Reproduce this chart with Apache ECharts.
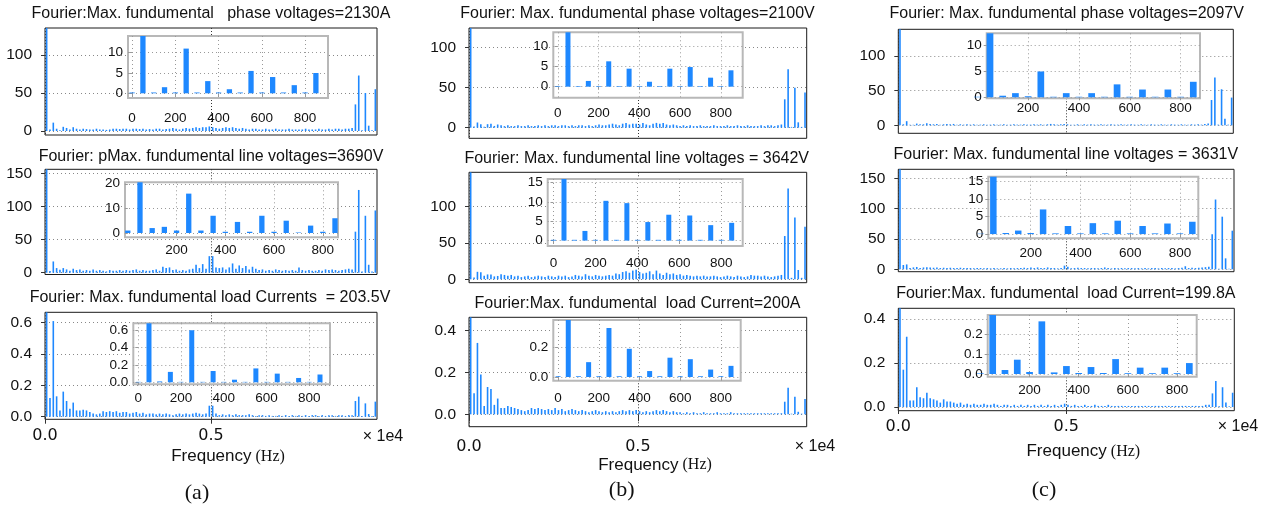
<!DOCTYPE html>
<html><head><meta charset="utf-8">
<script src="https://cdn.jsdelivr.net/npm/echarts@6/dist/echarts.min.js"></script>
<style>html,body{margin:0;padding:0;background:#fff}#c{width:1276px;height:510px}</style>
</head><body><div id="c"></div>
<script>
// ---------- DATA ----------
// odd harmonics of 50 Hz shown in the main spectra
const mainFreq = [50,150,250,350,450,550,650,750,850,950,1050,1150,1250,1350,1450,1550,1650,1750,1850,1950,2050,2150,2250,2350,2450,2550,2650,2750,2850,2950,3050,3150,3250,3350,3450,3550,3650,3750,3850,3950,4050,4150,4250,4350,4450,4550,4650,4750,4850,4950,5050,5150,5250,5350,5450,5550,5650,5750,5850,5950,6050,6150,6250,6350,6450,6550,6650,6750,6850,6950,7050,7150,7250,7350,7450,7550,7650,7750,7850,7950,8050,8150,8250,8350,8450,8550,8650,8750,8850,8950,9050,9150,9250,9350,9450,9550,9650,9750,9850,9950];
// harmonics in the zoomed insets
const insetFreq = [0,50,100,150,200,250,300,350,400,450,500,550,600,650,700,750,800,850];

const mainA1 = [2130,2,11,3,1,5.5,4,2,5,
 3,2,3,2.5,2,2,3,2,2,1.5,2,3,
 3,2.5,3,3,2,3,3,2.5,3,2,2.5,2,3,3,2,2.5,3,4,3,2,
 3,4,3,4,5,4,5,5,6,5,4,3,4,5,4,
 5,4,3,4,3,2,3,3,2,2,3,2,2,3,2,
 2,2,3,2,2,2,2,3,2,2,2,3,2,2,3,2,3,3,2,3,3,4,
 35,73,1,50,7,1,55];
const mainA2 = [3690,2.5,17,7,4.5,7,5,3,6,
 4,5,3,4,3,5,3,4,3,2,4,3,
 3,4,3,4,3,4,5,3,4,3,3,4,5,3,9,7,8,4,5,3,
 4,3,5,6,12,7,13,6,25,25,8,7,8,5,8,
 14,6,11,7,10,5,9,6,4,5,3,4,3,5,4,
 3,4,3,4,3,8,4,3,4,3,3,4,3,5,4,5,4,3,4,5,6,5,
 62,125,2,86,12,2,94];
const mainA3 = [203.5,0.12,0.61,0.13,0.04,0.16,0.1,0.05,0.09,
 0.04,0.04,0.045,0.04,0.03,0.02,0.015,0.02,0.035,0.03,0.035,0.03,
 0.035,0.025,0.03,0.03,0.02,0.025,0.03,0.02,0.025,0.015,0.02,0.02,0.015,0.02,0.015,0.02,0.015,0.01,0.015,0.02,
 0.015,0.02,0.015,0.02,0.025,0.02,0.015,0.02,0.07,0.07,0.02,0.01,0.015,0.01,0.015,
 0.01,0.015,0.01,0.01,0.01,0.015,0.01,0.005,0.01,0.01,0.005,0.01,0.005,0.005,0.01,
 0.005,0.01,0.005,0.01,0.005,0.01,0.005,0.01,0.005,0.01,0.01,0.005,0.01,0.005,0.01,0.01,0.005,0.01,0.01,0.005,0.01,0.01,
 0.1,0.128,0.005,0.085,0.017,0.005,0.096];
const mainB1 = [2100,1.4,6.5,4.4,1.2,4.4,4.8,2.2,4,
 3,2,3,2,2,3,2,2,3,2,2,3,
 2,3,2,3,3,2,3,3,2,3,2,3,3,2,3,2,3,4,3,3,
 4,5,4,3,5,6,4,5,5,4,6,4,3,5,6,
 5,6,4,3,4,3,2,3,2,3,2,2,3,2,2,
 2,3,2,2,2,3,2,2,3,2,2,3,2,2,2,3,2,3,3,2,3,4,
 35.5,73,1,50,6.7,1,44];
const mainB2 = [3642,2.5,10.3,9.7,4.8,6.7,6.5,4,4.6,
 7,6,5,6,4,5,3,4,5,3,4,5,
 4,3,5,4,3,5,4,5,3,4,6,5,4,7,5,4,6,5,4,5,
 6,5,8,7,10,11,9,12,13,10,8,9,11,7,12,
 8,6,9,7,8,6,7,5,6,5,4,5,4,5,4,
 4,5,4,3,4,5,4,3,5,4,3,4,6,5,5,4,5,4,3,4,5,6,
 59.6,125,2,85,12.8,2,72.5];
const mainB3 = [200,0.1,0.34,0.19,0.04,0.13,0.12,0.045,0.075,
 0.03,0.03,0.04,0.035,0.03,0.025,0.02,0.015,0.02,0.03,0.025,0.03,
 0.025,0.02,0.025,0.02,0.03,0.02,0.025,0.015,0.02,0.025,0.02,0.015,0.02,0.015,0.01,0.015,0.02,0.015,0.01,0.015,
 0.01,0.015,0.01,0.015,0.02,0.015,0.02,0.015,0.02,0.015,0.01,0.015,0.01,0.015,0.02,
 0.015,0.02,0.015,0.01,0.015,0.01,0.01,0.005,0.01,0.005,0.01,0.005,0.005,0.01,0.005,
 0.005,0.005,0.01,0.005,0.005,0.005,0.01,0.005,0.005,0.005,
 0.005,0.005,0.005,0.005,0.005,0.005,0.005,0.005,0.005,0.005,0.005,0.005,
 0.06,0.127,0.003,0.084,0.012,0.003,0.073];
const mainC1 = [2097,1.5,6,0.8,0.8,2.5,1.5,1.5,3,
 2,1.5,2,1,1.5,2,1.5,2,1,1.5,1,1.5,
 1,1.5,1,1,1.5,1,1,1.5,1,1,1.5,1,1,1.5,1,1,1.5,1,1,1.5,
 1,1.5,1,1.5,2,1.5,1,1.5,2,1.5,1,1,1.5,1,1.5,
 1,1.5,1,1,1.5,1,1,1.5,1,1,1.5,1,1,1.5,1,
 1,1.5,1,1,1.5,1,1,1.5,1,1,1.5,1,1,1.5,1,1,1.5,1,1.5,1,2,2.5,
 36.5,69,1,52,9.5,1,40];
const mainC2 = [3631,7,8,2.3,3.1,3.8,2.3,3,3.5,
 3,2.5,3,2,2.5,2,2.5,2,2,2.5,2,2,
 2,1.5,2,2,1.5,2,1.5,2,1.5,1.5,2,1.5,2,1.5,2,2,2.5,2,3,2,
 3,2,2,3,2,2,1.5,2,6,4,1.5,2,2.5,2,2,
 1.5,2,2,1.5,2,3,2,1.5,2,1.5,2,1.5,2,2,1.5,
 2,1.5,2,1.5,2,2,1.5,2,1.5,2,2,1.5,2,2.5,5,2,2.5,2,2.5,3,3.5,4,
 57.7,115,1,86.7,18,1,63.6];
const mainC3 = [199.8,0.17,0.32,0.03,0.03,0.09,0.045,0.04,0.065,
 0.04,0.035,0.03,0.02,0.035,0.025,0.025,0.02,0.015,0.02,0.01,0.015,
 0.01,0.015,0.01,0.01,0.015,0.01,0.01,0.015,0.01,0.005,0.01,0.01,0.005,0.01,0.005,0.01,0.005,0.01,0.005,0.01,
 0.005,0.01,0.005,0.01,0.005,0.01,0.005,0.01,0.015,0.01,0.005,0.01,0.005,0.005,0.01,
 0.005,0.005,0.01,0.005,0.005,0.005,0.01,0.005,0.005,0.005,0.005,0.005,0.005,0.005,0.005,
 0.005,0.005,0.005,0.005,0.005,0.005,0.005,0.005,0.005,0.005,
 0.005,0.005,0.005,0.005,0.005,0.005,0.005,0.005,0.005,0.005,0.01,0.01,
 0.062,0.118,0.003,0.09,0.02,0.003,0.065];

const insetA1 = [0.2,2130,0.2,1.5,0.2,11,0.2,3,0.2,1,0.2,5.5,0.2,4,0.2,2,0.2,5];
const insetA2 = [1,3690,2,2.5,1,16,1,7,0.5,4.5,0.5,7,0.5,5,0.2,3,0.5,6];
const insetA3 = [0.005,203.5,0.01,0.12,0.005,0.6,0.005,0.13,0.005,0.03,0.005,0.16,0.005,0.1,0.005,0.05,0.005,0.09];
const insetB1 = [0.15,2100,0.15,1.4,0.15,6.2,0.15,4.4,0.15,1.2,0.15,4.4,0.15,4.8,0.15,2.2,0.15,4];
const insetB2 = [0.2,3642,0.2,2.5,0.2,10.3,0.2,9.7,0.2,4.8,0.2,6.7,0.2,6.5,0.2,4,0.2,4.6];
const insetB3 = [0.005,200,0.005,0.1,0.005,0.33,0.005,0.19,0.005,0.04,0.005,0.13,0.005,0.12,0.005,0.05,0.005,0.075];
const insetC1 = [0.1,2097,0.3,0.8,0.2,5,0.1,0.8,0.1,0.8,0.1,2.5,0.1,1.5,0.1,1.5,0.1,3];
const insetC2 = [0.1,3631,0.3,1,0.3,7,0.2,2.3,0.2,3.1,0.2,3.8,0.2,2.3,0.2,3,0.2,3.5];
const insetC3 = [0.003,199.8,0.02,0.072,0.01,0.265,0.008,0.04,0.005,0.035,0.005,0.075,0.004,0.032,0.004,0.032,0.004,0.055];

const titleA1 = 'Fourier:Max. fundumental   phase voltages=2130A';
const titleA2 = 'Fourier: pMax. fundumental line voltages=3690V';
const titleA3 = 'Fourier: Max. fundumental load Currents  = 203.5V';
const titleB1 = 'Fourier: Max. fundumental phase voltages=2100V';
const titleB2 = 'Fourier: Max. fundumental line voltages = 3642V';
const titleB3 = 'Fourier:Max. fundumental  load Current=200A';
const titleC1 = 'Fourier: Max. fundumental phase voltages=2097V';
const titleC2 = 'Fourier: Max. fundumental line voltages = 3631V';
const titleC3 = 'Fourier:Max. fundumental  load Current=199.8A';

const mainXTicks = [0, 5000];
const yTicksV = [0, 50, 100];
const yTicksV150 = [0, 50, 100, 150];
const yTicksI6 = [0, 0.2, 0.4, 0.6];
const yTicksI4 = [0, 0.2, 0.4];
const insXTicks0 = [0, 200, 400, 600, 800];
const insXTicks200 = [200, 400, 600, 800];
const insYA1 = [0, 5, 10];
const insYA2 = [0, 10, 20];
const insYA3 = [0, 0.2, 0.4, 0.6];
const insYB1 = [0, 5, 10];
const insYB2 = [0, 5, 10, 15];
const insYB3 = [0, 0.2];
const insYC1 = [0, 5, 10];
const insYC2 = [0, 5, 10, 15];
const insYC3 = [0, 0.1, 0.2];
const subLabels = ['(a)', '(b)', '(c)'];
const xName = 'Frequency';
const xUnit = '(Hz)';
const xScale = '\u00d7 1e4';

// ---------- LAYOUT ----------
const panels = [
 {t:titleA1, tx:211, ty:14, m:[45,28,332,107], my:[-5.26,135.5], yt:yTicksV, dec:0, bottom:false, mv:mainA1,
  i:[128,36,200,62], ix:[-19,906], iy:[-1.16,14.1], ixt:insXTicks0, iyt:insYA1, idec:0, im:13, bw:5.3, iv:insetA1},
 {t:titleA2, tx:211, ty:157, m:[45,169.3,332,105.2], my:[-2.7,156.2], yt:yTicksV150, dec:0, bottom:false, mv:mainA2,
  i:[125,182.3,213,55], ix:[-11.5,862.4], iy:[-1.75,20.6], ixt:insXTicks200, iyt:insYA2, idec:0, im:6, bw:5.3, iv:insetA2},
 {t:titleA3, tx:210, ty:298, m:[45,312.3,332,107], my:[-0.0166,0.666], yt:yTicksI6, dec:1, bottom:true, xm:9, mv:mainA3,
  i:[133.3,323.3,196.7,61], ix:[-23.4,896.8], iy:[-0.023,0.68], ixt:insXTicks0, iyt:insYA3, idec:1, im:7, bw:5, iv:insetA3},
 {t:titleB1, tx:637.5, ty:14, m:[469,28,337.7,110.3], my:[-13.25,124.6], yt:yTicksV, dec:0, bottom:false, mv:mainB1,
  i:[553.3,32.3,189.4,65.4], ix:[-22,907.6], iy:[-2.7,13.3], ixt:insXTicks0, iyt:insYB1, idec:0, im:9, bw:5, iv:insetB1},
 {t:titleB2, tx:636.7, ty:158.3, m:[469,172.3,337.7,110.4], my:[-4.7,147.4], yt:yTicksV, dec:0, bottom:false, mv:mainB2,
  i:[547.7,179,195,67], ix:[-27.7,902.6], iy:[-1.4,15.95], ixt:insXTicks0, iyt:insYB2, idec:0, im:10, bw:5, iv:insetB2},
 {t:titleB3, tx:637.5, ty:303.3, m:[469,317.3,337.7,109.4], my:[-0.059,0.462], yt:yTicksI4, dec:1, bottom:true, xm:12, mv:mainB3,
  i:[553.3,320,187.4,60.7], ix:[-23.6,897.7], iy:[-0.025,0.384], ixt:insXTicks0, iyt:insYB3, idec:1, im:11, bw:5, iv:insetB3},
 {t:titleC1, tx:1066.7, ty:14, m:[898.3,29.3,335,104], my:[-11.5,138.5], yt:yTicksV, dec:0, bottom:false, mv:mainC1,
  i:[986.7,33.3,213.3,65], ix:[37,876.4], iy:[-0.2,12.4], ixt:insXTicks200, iyt:insYC1, idec:0, im:3, bw:6.7, iv:insetC1},
 {t:titleC2, tx:1065.8, ty:155, m:[898.3,169.3,335.7,102.4], my:[-4,164.8], yt:yTicksV150, dec:0, bottom:false, mv:mainC2,
  i:[988.3,176.7,210,61.6], ix:[29.7,874], iy:[-1.2,16.3], ixt:insXTicks200, iyt:insYC2, idec:0, im:8, bw:6.5, iv:insetC2},
 {t:titleC3, tx:1065.8, ty:294, m:[898.3,308.3,336,102.4], my:[-0.0168,0.4495], yt:yTicksI4, dec:1, bottom:true, xm:8, mv:mainC3,
  i:[987.7,315,209,61.7], ix:[29.7,880], iy:[-0.0136,0.297], ixt:insXTicks200, iyt:insYC3, idec:1, im:7, bw:6.7, iv:insetC3}
];
const bottomText = [
 {lab:[197,493], scale:[383,436.7], name:[228,456.7]},
 {lab:[621.7,490], scale:[815,446.7], name:[655,465]},
 {lab:[1044,490], scale:[1238,426.7], name:[1083.3,451.7]}
];

const BLUE = '#1e88ff';
const SANS = '"Liberation Sans", Arial, sans-serif';
const grids = [], xAxes = [], yAxes = [], series = [], graphics = [];

panels.forEach(p => {
  const fmt = p.dec ? (v => v.toFixed(1)) : (v => String(v));
  const ifmt = p.idec ? (v => v.toFixed(1)) : (v => String(v));
  // main plot
  let g = grids.length;
  grids.push({left:p.m[0], top:p.m[1], width:p.m[2], height:p.m[3], show:true,
    borderColor:'#1a1a1a', borderWidth:1, backgroundColor:'transparent', z:0});
  xAxes.push({type:'value', gridIndex:g, min:0, max:10000, z:1,
    axisLine:{show:false},
    axisTick:{show:p.bottom, length:7, customValues:mainXTicks, lineStyle:{color:'#333'}},
    axisLabel:{show:p.bottom, customValues:mainXTicks, formatter:v => (v/1e4).toFixed(1),
      fontFamily:'"DejaVu Sans", sans-serif', fontSize:16, color:'#111', margin:p.xm || 8},
    splitLine:{show:true, lineStyle:{type:[1,2], color:'#333', width:1}}});
  yAxes.push({type:'value', gridIndex:g, min:p.my[0], max:p.my[1], z:1,
    axisLine:{show:false},
    axisTick:{show:true, length:4, customValues:p.yt, lineStyle:{color:'#333'}},
    axisLabel:{customValues:p.yt, formatter:fmt, fontFamily:SANS, fontSize:15.5, color:'#111', margin:13},
    splitLine:{show:true, lineStyle:{type:[1,3], color:'#888', width:1}}});
  series.push({type:'bar', xAxisIndex:g, yAxisIndex:g, barWidth:1.6, z:2, clip:true,
    itemStyle:{color:BLUE}, data:mainFreq.map((f,k) => [f, p.mv[k]])});
  // inset
  g = grids.length;
  grids.push({left:p.i[0], top:p.i[1], width:p.i[2], height:p.i[3], show:true,
    borderColor:'#b8b8b8', borderWidth:2, backgroundColor:'#ffffff', z:5});
  xAxes.push({type:'value', gridIndex:g, min:p.ix[0], max:p.ix[1], z:6,
    axisLine:{show:false},
    axisTick:{show:true, length:3, customValues:p.ixt, lineStyle:{color:'#999'}},
    axisLabel:{customValues:p.ixt, fontFamily:SANS, fontSize:13.5, color:'#111', margin:p.im},
    splitLine:{show:true, lineStyle:{type:[1,3], color:'#999', width:1}}});
  yAxes.push({type:'value', gridIndex:g, min:p.iy[0], max:p.iy[1], z:6,
    axisLine:{show:false},
    axisTick:{show:true, length:3, customValues:p.iyt, lineStyle:{color:'#999'}},
    axisLabel:{customValues:p.iyt, formatter:ifmt, fontFamily:SANS, fontSize:13.5, color:'#111', margin:5},
    splitLine:{show:true, lineStyle:{type:[1,3], color:'#999', width:1}}});
  series.push({type:'bar', xAxisIndex:g, yAxisIndex:g, barWidth:p.bw, z:7, clip:true,
    itemStyle:{color:BLUE}, data:insetFreq.map((f,k) => [f, p.iv[k]])});
  // title
  graphics.push({type:'text', x:p.tx, y:p.ty, z:10, style:{text:p.t, font:'16px ' + SANS, fill:'#111',
    align:'center', verticalAlign:'middle'}});
});

bottomText.forEach((b, k) => {
  graphics.push({type:'text', x:b.lab[0], y:b.lab[1], z:10, style:{text:subLabels[k],
    font:'22px "Liberation Serif", "Times New Roman", serif', fill:'#111', align:'center', verticalAlign:'middle'}});
  graphics.push({type:'text', x:b.scale[0], y:b.scale[1], z:10, style:{text:xScale,
    font:'16px ' + SANS, fill:'#111', align:'center', verticalAlign:'middle'}});
  graphics.push({type:'text', x:b.name[0], y:b.name[1], z:10, style:{text:'{a|' + xName + '}{b| ' + xUnit + '}',
    align:'center', verticalAlign:'middle',
    rich:{a:{fontFamily:SANS, fontSize:17, fill:'#111'}, b:{fontFamily:'"Liberation Serif", serif', fontSize:16, fill:'#111'}}}});
});

const chart = echarts.init(document.getElementById('c'), null, {renderer:'canvas'});
chart.setOption({
  animation:false,
  backgroundColor:'#ffffff',
  grid:grids, xAxis:xAxes, yAxis:yAxes, series:series, graphic:graphics
});
</script></body></html>
